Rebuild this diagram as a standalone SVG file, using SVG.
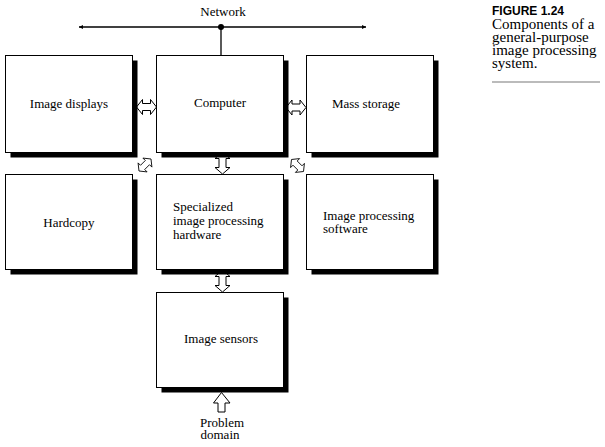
<svg xmlns="http://www.w3.org/2000/svg" width="605" height="447" viewBox="0 0 605 447">
<style>
.box{fill:#fff;stroke:#000;stroke-width:1}
.shadow{fill:#000}
.lbl{font-family:"Liberation Serif","Times New Roman",serif;font-size:13px;fill:#000}
.cap{font-family:"Liberation Serif","Times New Roman",serif;font-size:15px;fill:#000}
.fig{font-family:"Liberation Sans",Arial,sans-serif;font-size:12px;font-weight:bold;fill:#000}
.arr{fill:#fff;stroke:#000;stroke-width:1;stroke-linejoin:miter}
.net{stroke:#000;stroke-width:1.3;fill:none}
</style>
<defs>
<marker id="netHead" viewBox="0 0 6 6" refX="6" refY="3" markerWidth="4.5" markerHeight="4" orient="auto-start-reverse" markerUnits="userSpaceOnUse">
<path d="M0,0 L6,3 L0,6 Z" fill="#000"/>
</marker>
<polygon id="dbl" points="-10,0 -4,-7.5 -4,-3.5 4,-3.5 4,-7.5 10,0 4,7.5 4,3.5 -4,3.5 -4,7.5"/>
<polygon id="dblLong" points="-11,0 -4.5,-7.5 -4.5,-3.5 4.5,-3.5 4.5,-7.5 11,0 4.5,7.5 4.5,3.5 -4.5,3.5 -4.5,7.5"/>
</defs>

<g id="network">
<text class="lbl" x="223" y="16" text-anchor="middle">Network</text>
<line class="net" x1="79" y1="27" x2="366" y2="27" marker-start="url(#netHead)" marker-end="url(#netHead)"/>
<circle cx="221" cy="27" r="3" fill="#000"/>
</g>

<g id="connectors">
<line class="net" x1="221" y1="27" x2="221" y2="55.5"/>
<use href="#dbl" class="arr" transform="translate(146.5,107)"/>
<use href="#dbl" class="arr" transform="translate(296,107.5)"/>
<use href="#dblLong" class="arr" transform="translate(222.5,163) rotate(90)"/>
<use href="#dblLong" class="arr" transform="translate(222.5,281) rotate(90)"/>
<use href="#dbl" class="arr" transform="translate(145,165) rotate(-45) scale(0.85)"/>
<use href="#dbl" class="arr" transform="translate(297.5,165.5) rotate(45) scale(0.85)"/>
<polygon class="arr" points="221.5,392.5 230,403 225,403 225,412 218,412 218,403 213.5,403"/>
</g>

<g id="image-displays">
<rect class="shadow" x="10.5" y="60.5" width="127" height="97"/>
<rect class="box" x="5.5" y="55.5" width="127" height="97"/>
<text class="lbl" x="69" y="108" text-anchor="middle">Image displays</text>
</g>

<g id="computer">
<rect class="shadow" x="161.5" y="60.5" width="127" height="97"/>
<rect class="box" x="156.5" y="55.5" width="127" height="97"/>
<text class="lbl" x="220" y="107" text-anchor="middle">Computer</text>
</g>

<g id="mass-storage">
<rect class="shadow" x="311.5" y="60.5" width="127" height="97"/>
<rect class="box" x="306.5" y="55.5" width="127" height="97"/>
<text class="lbl" x="366" y="108" text-anchor="middle">Mass storage</text>
</g>

<g id="hardcopy">
<rect class="shadow" x="10.5" y="179.5" width="127" height="95"/>
<rect class="box" x="5.5" y="174.5" width="127" height="95"/>
<text class="lbl" x="69" y="227" text-anchor="middle">Hardcopy</text>
</g>

<g id="specialized-hardware">
<rect class="shadow" x="161.5" y="179.5" width="127" height="95"/>
<rect class="box" x="156.5" y="174.5" width="127" height="95"/>
<text class="lbl" x="173" y="211">Specialized</text>
<text class="lbl" x="173" y="225">image processing</text>
<text class="lbl" x="173" y="239">hardware</text>
</g>

<g id="image-processing-software">
<rect class="shadow" x="311.5" y="179.5" width="127" height="95"/>
<rect class="box" x="306.5" y="174.5" width="127" height="95"/>
<text class="lbl" x="323" y="220">Image processing</text>
<text class="lbl" x="323" y="233">software</text>
</g>

<g id="image-sensors">
<rect class="shadow" x="161.5" y="297.5" width="127" height="95"/>
<rect class="box" x="156.5" y="292.5" width="127" height="95"/>
<text class="lbl" x="221" y="343" text-anchor="middle">Image sensors</text>
</g>

<g id="problem-domain">
<text class="lbl" x="222" y="427" text-anchor="middle">Problem</text>
<text class="lbl" x="220" y="439" text-anchor="middle">domain</text>
</g>

<g id="caption">
<text class="fig" x="492" y="15">FIGURE 1.24</text>
<text class="cap" x="492" y="29">Components of a</text>
<text class="cap" x="492" y="42">general-purpose</text>
<text class="cap" x="492" y="55">image processing</text>
<text class="cap" x="492" y="68">system.</text>
<line x1="492" y1="82" x2="600" y2="82" stroke="#bbb" stroke-width="2"/>
</g>
</svg>
